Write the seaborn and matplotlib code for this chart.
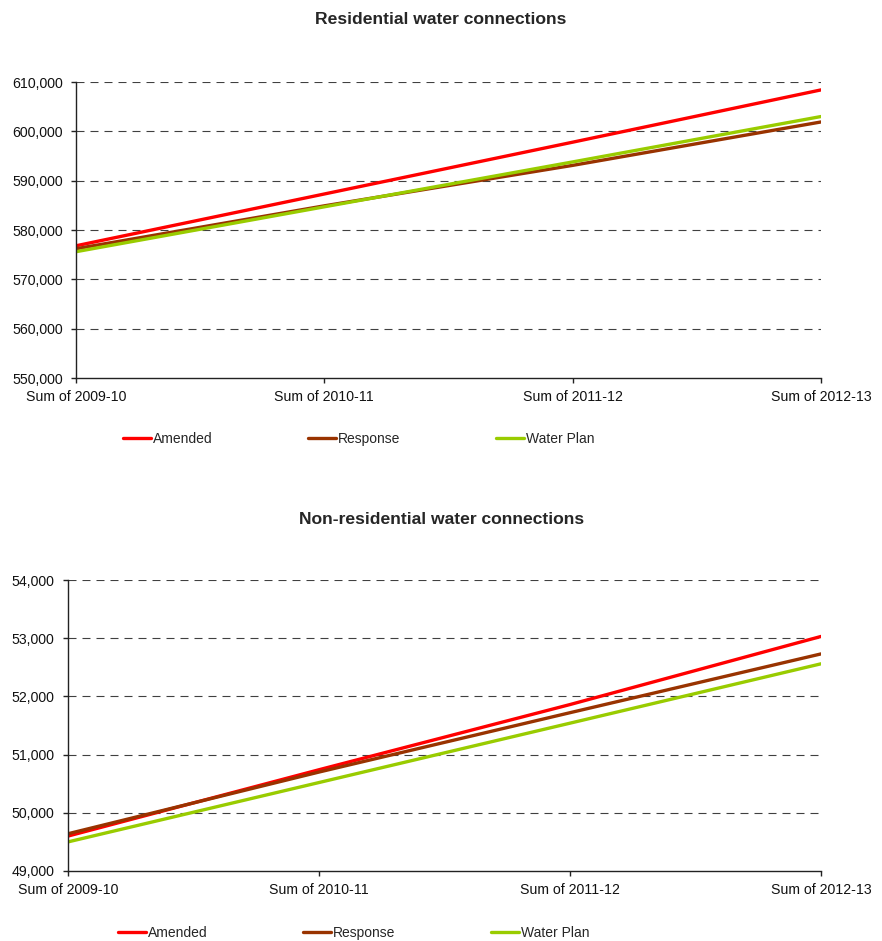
import matplotlib
matplotlib.use("Agg")
import matplotlib.pyplot as plt
import matplotlib.ticker as mticker
import seaborn as sns
import pandas as pd

sns.set_style("white")
plt.rcParams["font.family"] = ["Liberation Sans", "DejaVu Sans"]

periods = ["Sum of 2009-10", "Sum of 2010-11", "Sum of 2011-12", "Sum of 2012-13"]
series_names = ["Amended", "Response", "Water Plan"]
colors = ["#FF0000", "#993300", "#99CC00"]

res_amended = [576800, 587300, 597800, 608400]
res_response = [576200, 584900, 593100, 601900]
res_water_plan = [575600, 584700, 593800, 603000]

nonres_amended = [49600, 50740, 51860, 53030]
nonres_response = [49640, 50700, 51720, 52730]
nonres_water_plan = [49500, 50520, 51540, 52560]

res_ticks = [550000, 560000, 570000, 580000, 590000, 600000, 610000]
nonres_ticks = [49000, 50000, 51000, 52000, 53000, 54000]


def long_frame(values_by_series):
    rows = []
    for name, vals in zip(series_names, values_by_series):
        for p, v in zip(periods, vals):
            rows.append({"Period": p, "Series": name, "Value": v})
    return pd.DataFrame(rows)


def draw_panel(ax, df, yticks, legend_pos, fig):
    sns.lineplot(data=df, x="Period", y="Value", hue="Series",
                 palette=dict(zip(series_names, colors)), hue_order=series_names,
                 sort=False, linewidth=2.4, ax=ax, legend=False)
    ax.set_xlim(0, len(periods) - 1)
    ax.set_ylim(yticks[0], yticks[-1])
    ax.set_yticks(yticks)
    ax.yaxis.set_major_formatter(mticker.StrMethodFormatter("{x:,.0f}"))
    ax.set_xticks(range(len(periods)))
    ax.set_xticklabels(periods)
    ax.set_xlabel("")
    ax.set_ylabel("")
    for y in yticks[1:]:
        ax.axhline(y, color="#404040", lw=0.8, linestyle=(0, (7.2, 5.4)), zorder=0)
    for side in ["top", "right"]:
        ax.spines[side].set_visible(False)
    for side in ["left", "bottom"]:
        ax.spines[side].set_color("#222222")
        ax.spines[side].set_linewidth(1.0)
    ax.tick_params(axis="both", which="major", direction="out", length=3.6, width=1,
                   color="#222222", labelsize=10.2, labelcolor="#111111",
                   left=True, bottom=True)
    ax.tick_params(axis="y", pad=6.0)
    ax.tick_params(axis="x", pad=5.0)
    handles = [plt.Line2D([], [], color=c, lw=2.4) for c in colors]
    fig.legend(handles, series_names, loc="center left",
               bbox_to_anchor=legend_pos, ncol=3, frameon=False,
               fontsize=10, handlelength=2.0, handletextpad=0.15,
               columnspacing=6.9, borderaxespad=0, borderpad=0)


fig = plt.figure(figsize=(8.82, 9.41), dpi=100)
ax1 = fig.add_axes([76 / 882, 1 - 378 / 941, (821 - 76) / 882, (378 - 82) / 941])
ax2 = fig.add_axes([68 / 882, 1 - 871 / 941, (821 - 68) / 882, (871 - 580) / 941])

draw_panel(ax1, long_frame([res_amended, res_response, res_water_plan]),
           res_ticks, (123 / 882, 1 - 439 / 941), fig)
draw_panel(ax2, long_frame([nonres_amended, nonres_response, nonres_water_plan]),
           nonres_ticks, (118 / 882, 1 - 933 / 941), fig)

fig.text(441 / 882, 1 - 20 / 941, "Residential water connections",
         ha="center", va="center", fontsize=12.6, fontweight="bold")
fig.text(442 / 882, 1 - 520 / 941, "Non-residential water connections",
         ha="center", va="center", fontsize=12.6, fontweight="bold")

fig.savefig("out.png", dpi=100, facecolor="white")
